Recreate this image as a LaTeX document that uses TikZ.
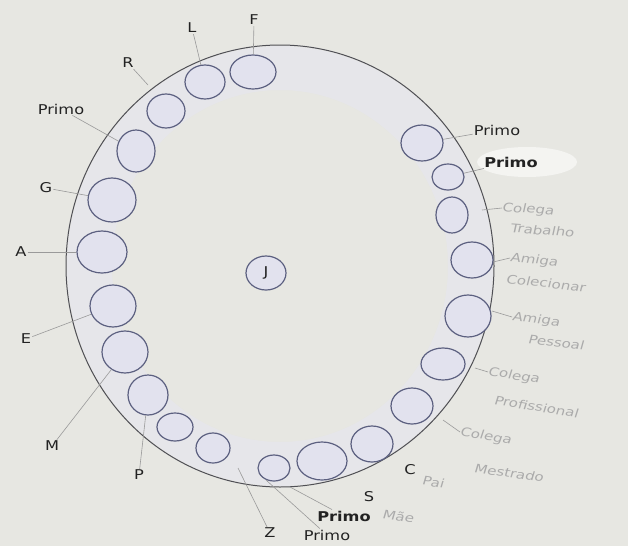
\documentclass[tikz,border=0pt]{standalone}
\usepackage{fontspec}
\setmainfont{DejaVu Sans}
\newfontfamily\labfont[FakeStretch=1.2]{DejaVu Sans}
\newfontfamily\handfont[FakeStretch=1.25,FakeSlant=0.15]{DejaVu Sans}
\usetikzlibrary{shapes.geometric}
\definecolor{bg}{HTML}{E7E7E2}
\definecolor{ringc}{HTML}{4F4F55}
\definecolor{cedge}{HTML}{5C6080}
\definecolor{cfill}{HTML}{E2E2EE}
\definecolor{bandc}{HTML}{E6E6EA}
\definecolor{leadc}{HTML}{9A9A9A}
\definecolor{handc}{HTML}{ABABAB}
\definecolor{txtc}{HTML}{222222}
\begin{document}
\begin{tikzpicture}[x=1pt,y=-1pt,
  seat/.style={ellipse, draw=cedge, fill=cfill, line width=1.2pt, inner sep=0pt},
  lab/.style={font=\labfont\fontsize{13.5}{14}\selectfont, text=txtc, inner sep=1pt},
  boldlab/.style={lab, font=\labfont\bfseries\fontsize{13.5}{14}\selectfont},
  hand/.style={font=\handfont\fontsize{12}{12}\selectfont, text=handc, inner sep=0pt, anchor=west},
  lead/.style={draw=leadc, line width=0.6pt}]
\fill[bg] (0,0) rectangle (628,546);
\useasboundingbox (0,0) rectangle (628,546);
% faint band and white blob
\fill[bandc, even odd rule] (280,266) ellipse [x radius=213, y radius=220] (280,266) ellipse [x radius=168, y radius=176];
\fill[white, opacity=0.55] (527,162) ellipse [x radius=50, y radius=15];
% big ring
\node[ellipse, draw=ringc, line width=1pt, minimum width=428pt, minimum height=442pt, inner sep=0pt] (ring) at (280,266) {};
% seats
\node[seat, minimum width=46pt, minimum height=34pt] (c1) at (253,72) {};
\node[seat, minimum width=40pt, minimum height=34pt] (c2) at (205,82) {};
\node[seat, minimum width=38pt, minimum height=34pt] (c3) at (166,111) {};
\node[seat, minimum width=38pt, minimum height=42pt] (c4) at (136,151) {};
\node[seat, minimum width=48pt, minimum height=44pt] (c5) at (112,200) {};
\node[seat, minimum width=50pt, minimum height=42pt] (c6) at (102,252) {};
\node[seat, minimum width=46pt, minimum height=42pt] (c7) at (113,306) {};
\node[seat, minimum width=46pt, minimum height=42pt] (c8) at (125,352) {};
\node[seat, minimum width=40pt, minimum height=40pt] (c9) at (148,395) {};
\node[seat, minimum width=36pt, minimum height=28pt] (c10) at (175,427) {};
\node[seat, minimum width=34pt, minimum height=30pt] (c11) at (213,448) {};
\node[seat, minimum width=32pt, minimum height=26pt] (c12) at (274,468) {};
\node[seat, minimum width=50pt, minimum height=38pt] (c13) at (322,461) {};
\node[seat, minimum width=42pt, minimum height=36pt] (c14) at (372,444) {};
\node[seat, minimum width=42pt, minimum height=36pt] (c15) at (412,406) {};
\node[seat, minimum width=44pt, minimum height=32pt] (c16) at (443,364) {};
\node[seat, minimum width=46pt, minimum height=42pt] (c17) at (468,316) {};
\node[seat, minimum width=42pt, minimum height=36pt] (c18) at (472,260) {};
\node[seat, minimum width=32pt, minimum height=36pt] (c19) at (452,215) {};
\node[seat, minimum width=32pt, minimum height=26pt] (c20) at (448,177) {};
\node[seat, minimum width=42pt, minimum height=36pt] (c21) at (422,143) {};
\node[seat, minimum width=40pt, minimum height=34pt, font=\labfont\fontsize{13.5}{14}\selectfont, text=txtc] (cJ) at (266,273) {J};
% printed labels
\node[lab] (lF) at (254,20) {F};
\node[lab] (lL) at (192,28) {L};
\node[lab] (lR) at (128,63) {R};
\node[lab] (lP1) at (61,109) {Primo};
\node[lab] (lG) at (46,188) {G};
\node[lab] (lA) at (21,252) {A};
\node[lab] (lE) at (26,339) {E};
\node[lab] (lM) at (52,446) {M};
\node[lab] (lP) at (139,475) {P};
\node[lab] (lZ) at (270,533) {Z};
\node[lab] (lP2) at (327,535) {Primo};
\node[boldlab] (lP3) at (344,516) {Primo};
\node[lab] (lS) at (369,497) {S};
\node[lab] (lC) at (410,470) {C};
\node[lab] (lP4) at (497,130) {Primo};
\node[boldlab] (lP5) at (511,162) {Primo};
% handwritten labels (one node per written line)
\node[hand, rotate=-4] (hT) at (502,208) {Colega};
\node[hand, rotate=-4] (hT2) at (510,228) {Trabalho};
\node[hand, rotate=-6] (hC) at (510,258) {Amiga};
\node[hand, rotate=-6] (hC2) at (506,279) {Colecionar};
\node[hand, rotate=-7] (hPe) at (512,317) {Amiga};
\node[hand, rotate=-7] (hPe2) at (528,339) {Pessoal};
\node[hand, rotate=-9] (hPr) at (488,372) {Colega};
\node[hand, rotate=-9] (hPr2) at (494,400) {Profissional};
\node[hand, rotate=-10] (hM) at (460,432) {Colega};
\node[hand, rotate=-8] (hM2) at (474,468) {Mestrado};
\node[hand, rotate=-8, anchor=center] (hPai) at (433,482) {Pai};
\node[hand, rotate=-8, anchor=center] (hMae) at (398,516) {Mãe};
% free ends of leaders
\coordinate (eR) at (148,85);
\coordinate (eZ) at (238,468);
\coordinate (eP2) at (266,480);
\coordinate (eP3) at (290,487);
\coordinate (eT) at (482,210);
\coordinate (eC) at (493,262);
\coordinate (ePe) at (492,311);
\coordinate (ePr) at (475,368);
\coordinate (eM) at (443,420);
% leaders
\draw[lead] (lF) -- (c1);
\draw[lead] (lL) -- (c2);
\draw[lead] (lR) -- (eR);
\draw[lead] (lP1) -- (c4);
\draw[lead] (lG) -- (c5);
\draw[lead] (lA) -- (c6);
\draw[lead] (lE) -- (c7);
\draw[lead] (lM) -- (c8);
\draw[lead] (lP) -- (c9);
\draw[lead] (lZ) -- (eZ);
\draw[lead] (lP2) -- (eP2);
\draw[lead] (lP3) -- (eP3);
\draw[lead] (lP4) -- (c21);
\draw[lead] (lP5) -- (c20);
\draw[lead] (eT) -- (hT.west);
\draw[lead] (eC) -- (hC.west);
\draw[lead] (ePe) -- (hPe.west);
\draw[lead] (ePr) -- (hPr.west);
\draw[lead] (eM) -- (hM.west);
\end{tikzpicture}
\end{document}
